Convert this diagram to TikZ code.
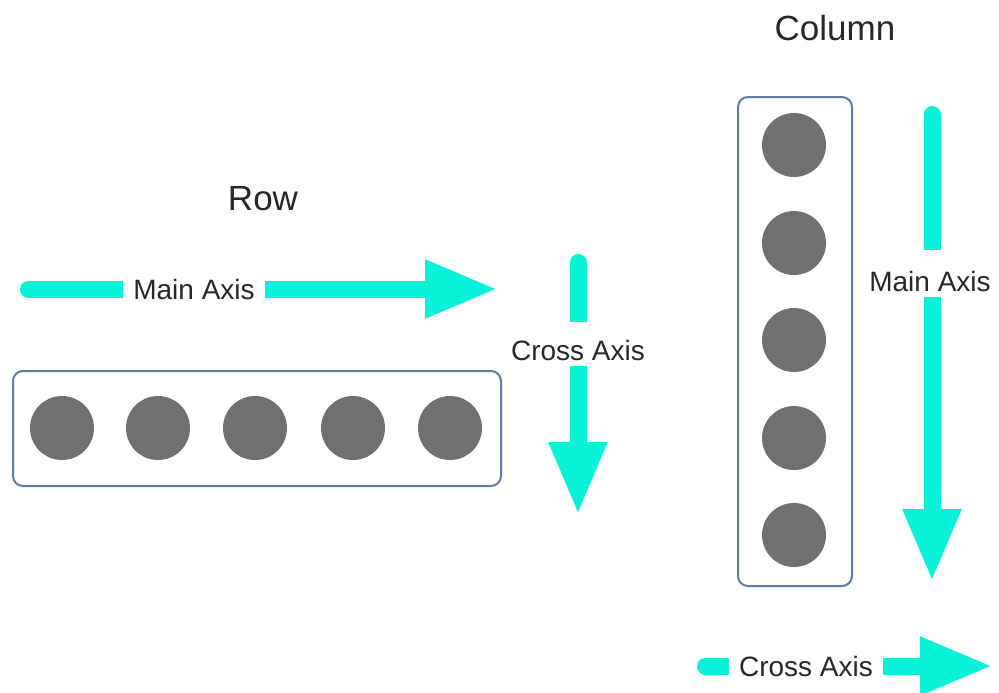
\documentclass[tikz,border=0pt]{standalone}
\usepackage{fontspec}
\setmainfont{Liberation Sans}
\usetikzlibrary{arrows.meta,backgrounds}
\definecolor{axiscol}{RGB}{8,242,218}
\definecolor{dotcol}{RGB}{112,112,112}
\definecolor{boxcol}{RGB}{95,125,165}
\definecolor{txtcol}{RGB}{40,40,40}
\begin{document}
\begin{tikzpicture}[x=0.5pt,y=-0.5pt,
  title/.style={font=\fontsize{17.5}{20}\selectfont, inner sep=0pt, text=txtcol},
  axlbl/.style={font=\fontsize{14}{16}\selectfont, inner xsep=5pt, inner ysep=3pt,
                text height=10pt, text depth=0pt, text=txtcol, fill=white, anchor=base},
  axline/.style={draw=axiscol, line width=8.5pt},
  axstart/.style={axline, line cap=round},
  axend/.style={axline, -{Triangle[width=27pt,length=36.5pt]}},
  dot/.style={circle, fill=dotcol, minimum size=32pt, inner sep=0pt},
  holder/.style={draw=boxcol, line width=1pt, rounded corners=5pt, inner sep=0pt}]
\useasboundingbox (0,0) rectangle (999,692);

% titles
\node[title] (rowt) at (263,199) {Row};
\node[title] (colt) at (835,28) {Column};

% row container and items
\node[holder, minimum width=244pt, minimum height=57.5pt] (rowbox) at (257,428.5) {};
\foreach \i/\x in {1/62,2/158,3/255,4/353,5/450}
  \node[dot] (r\i) at (\x,428) {};

% column container and items
\node[holder, minimum width=57pt, minimum height=244.5pt] (colbox) at (795,341.5) {};
\foreach \i/\y in {1/145,2/243,3/340,4/438,5/535}
  \node[dot] (c\i) at (794,\y) {};

% axis labels
\node[axlbl] (rml) at (194,299) {Main Axis};
\node[axlbl, text height=16pt] (rcl) at (578,360) {Cross Axis};
\node[axlbl, text height=17.5pt] (cml) at (930,291) {Main Axis};
\node[axlbl] (ccl) at (806,676) {Cross Axis};

% free ends of the axes
\coordinate (rms) at (28.5,289);
\coordinate (rme) at (498,289);
\coordinate (rcs) at (578,262.5);
\coordinate (rce) at (578,515);
\coordinate (cms) at (932,114.5);
\coordinate (cme) at (932,582);
\coordinate (ccs) at (705.5,666);
\coordinate (cce) at (993,666);

\begin{scope}[on background layer]
  \fill[white] (0,0) rectangle (999,692);
  % row main axis
  \draw[axstart] (rms) -- (rml.west);
  \draw[axend] (rml.east) -- (rme);
  % row cross axis
  \draw[axstart] (rcs) -- (rcl.north);
  \draw[axend] (rcl.south) -- (rce);
  % column main axis
  \draw[axstart] (cms) -- (cml.north -| cms);
  \draw[axend] (cml.south -| cms) -- (cme);
  % column cross axis
  \draw[axstart] (ccs) -- (ccl.west);
  \draw[axend] (ccl.east) -- (cce);
\end{scope}
\end{tikzpicture}
\end{document}
